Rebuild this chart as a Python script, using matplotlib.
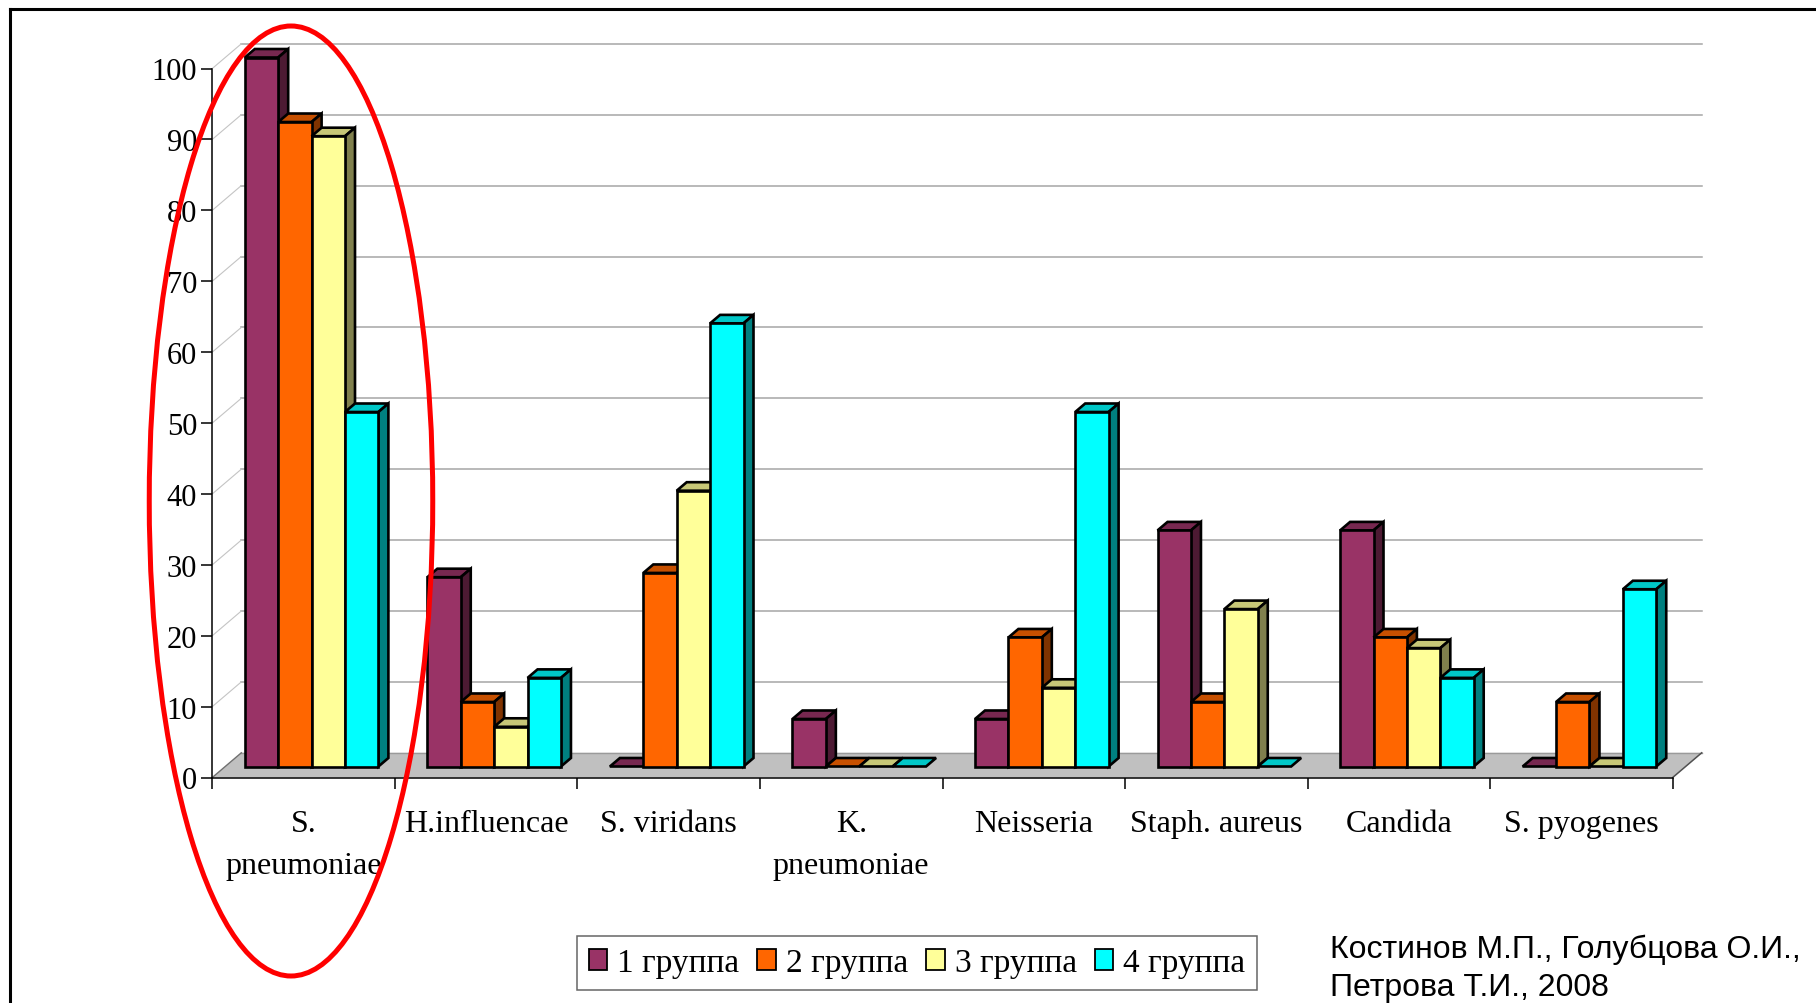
import matplotlib
matplotlib.use("Agg")
import matplotlib.pyplot as plt
from matplotlib.patches import Polygon, Rectangle, Ellipse, Patch
from matplotlib.lines import Line2D
from matplotlib.colors import to_rgb
import numpy as np

# ---- data (% of patients) ----
categories = ["S.\npneumoniae", "H.influencae", "S. viridans", "K.\npneumoniae",
              "Neisseria", "Staph. aureus", "Candida", "S. pyogenes"]
group_names = ["1 группа", "2 группа", "3 группа", "4 группа"]
group1 = [100, 26.7, 0, 6.7, 6.7, 33.3, 33.3, 0]
group2 = [90.9, 9.1, 27.3, 0, 18.2, 9.1, 18.2, 9.1]
group3 = [88.9, 5.6, 38.9, 0, 11.1, 22.2, 16.7, 0]
group4 = [50, 12.5, 62.5, 0, 50, 0, 12.5, 25]
y_ticks = list(range(0, 101, 10))
author_lines = ["Костинов М.П., Голубцова О.И.,", "Петрова Т.И., 2008"]

face_colors = ["#993366", "#FF6600", "#FFFF99", "#00FFFF"]
series = [group1, group2, group3, group4]

SERIF = "Liberation Serif"
SANS = "Liberation Sans"

W, H = 1816, 1004
fig = plt.figure(figsize=(W / 100, H / 100), dpi=100)
fig.patch.set_facecolor("white")


def fx(px):
    return px / W


def fy(py):
    return 1 - py / H


def shade(c, f):
    r, g, b = to_rgb(c)
    return (r * f, g * f, b * f)


# front plane of the pseudo-3D plot
ax_l, ax_r, ax_t, ax_b = 212.3, 1672.7, 69.5, 778.5
ax = fig.add_axes([fx(ax_l), fy(ax_b), (ax_r - ax_l) / W, (ax_b - ax_t) / H])
n = len(categories)
ax.set_xlim(0, n)
ax.set_ylim(0, 100)
ax.set_facecolor("none")
ux = (ax_r - ax_l) / n      # pixels per category
uy = (ax_b - ax_t) / 100.0  # pixels per percent

# depth of floor / back wall, and bar geometry (pixel sizes -> data units)
fdx, fdy = 29.0 / ux, 24.7 / uy
gx0 = 32.5 / ux
bw = 33.4 / ux
lift = 11.0 / uy
ddx, ddy = 10.0 / ux, 8.5 / uy

# floor
floor = Polygon([(0, 0), (n, 0), (n + fdx, fdy), (fdx, fdy)], closed=True,
                facecolor="#c0c0c0", edgecolor="none", zorder=1, clip_on=False)
ax.add_patch(floor)
ax.plot([n, n + fdx], [0, fdy], color="#505050", lw=1.1, zorder=1.2, clip_on=False)
ax.plot([0, fdx], [0, fdy], color="#707070", lw=1.0, zorder=1.2, clip_on=False)
ax.plot([fdx, n + fdx], [fdy, fdy], color="#9a9a9a", lw=1.0, zorder=1.1, clip_on=False)

# back-wall gridlines and side-wall diagonals
for v in y_ticks[1:]:
    ax.plot([fdx, n + fdx], [v + fdy, v + fdy], color="#a6a6a6", lw=1.1,
            zorder=0.5, clip_on=False)
    ax.plot([0, fdx], [v, v + fdy], color="#c4c4c4", lw=0.8, zorder=0.5,
            clip_on=False)

# bars
ew = 1.9
for i in range(n):
    for k, vals in enumerate(series):
        v = vals[i]
        c = face_colors[k]
        x0 = i + gx0 + k * bw
        y0 = lift
        y1 = lift + v
        z = 3 + i * 0.1 + k * 0.01
        top = Polygon([(x0, y1), (x0 + bw, y1), (x0 + bw + ddx, y1 + ddy),
                       (x0 + ddx, y1 + ddy)], closed=True,
                      facecolor=shade(c, 0.78), edgecolor="black", lw=ew,
                      joinstyle="miter", zorder=z, clip_on=False)
        ax.add_patch(top)
        if v > 0:
            side = Polygon([(x0 + bw, y0), (x0 + bw + ddx, y0 + ddy),
                            (x0 + bw + ddx, y1 + ddy), (x0 + bw, y1)], closed=True,
                           facecolor=shade(c, 0.5), edgecolor="black", lw=ew,
                           joinstyle="miter", zorder=z, clip_on=False)
            ax.add_patch(side)
            front = Rectangle((x0, y0), bw, v, facecolor=c, edgecolor="black",
                              lw=ew, joinstyle="miter", zorder=z + 0.001,
                              clip_on=False)
            ax.add_patch(front)

# axes: only the front left and bottom lines
for s in ("top", "right"):
    ax.spines[s].set_visible(False)
for s in ("left", "bottom"):
    ax.spines[s].set_color("black")
    ax.spines[s].set_linewidth(1.1)
    ax.spines[s].set_zorder(2)

ax.set_yticks(y_ticks)
ax.set_yticklabels([str(t) for t in y_ticks], fontfamily=SERIF, fontsize=22)
ax.tick_params(axis="y", which="major", direction="out", length=8, width=1.1,
               pad=3, colors="black")

ax.set_xticks(np.arange(n + 1))
ax.set_xticklabels([])
ax.tick_params(axis="x", which="major", direction="out", length=8, width=1.1)
ax.set_xticks(np.arange(n) + 0.5, minor=True)
ax.set_xticklabels(categories, minor=True, fontfamily=SERIF, fontsize=23,
                   linespacing=1.62)
ax.tick_params(axis="x", which="minor", length=0, pad=22.5)

# legend
handles = [Patch(facecolor=c, edgecolor="black", lw=1.3) for c in face_colors]
leg = fig.legend(handles, group_names, ncol=4, loc="center",
                 bbox_to_anchor=(fx(917), fy(964)),
                 prop={"family": SERIF, "size": 24},
                 frameon=True, fancybox=False, edgecolor="#404040",
                 handlelength=0.55, handleheight=0.55, handletextpad=0.3,
                 columnspacing=0.55, borderpad=0.35)
leg.get_frame().set_linewidth(1.1)

# citation
fig.text(fx(1330), fy(958), author_lines[0], family=SANS, fontsize=23,
         va="baseline", ha="left")
fig.text(fx(1330), fy(996), author_lines[1], family=SANS, fontsize=23,
         va="baseline", ha="left")

# highlight around the first category
ell = Ellipse((fx(291), fy(502)), width=283.5 / W, height=950 / H,
              transform=fig.transFigure, fill=False, edgecolor="red", lw=3.6,
              zorder=20)
fig.add_artist(ell)

# frame lines
fig.add_artist(Line2D([fx(10), 1.0], [fy(10), fy(10)], transform=fig.transFigure,
                      color="black", lw=2.2, solid_capstyle="projecting"))
fig.add_artist(Line2D([fx(10), fx(10)], [fy(10), 0.0], transform=fig.transFigure,
                      color="black", lw=2.2, solid_capstyle="projecting"))

fig.savefig("out.png", dpi=100, facecolor="white")
